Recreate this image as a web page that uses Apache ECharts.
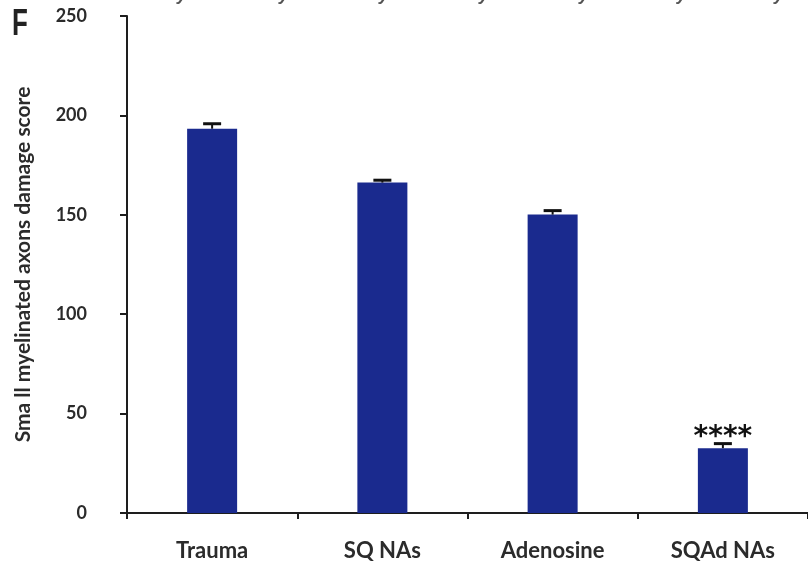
<!DOCTYPE html>
<html>
<head>
<meta charset="utf-8">
<script src="https://cdn.jsdelivr.net/npm/echarts@6/dist/echarts.min.js"></script>
<style>
  html, body { margin: 0; padding: 0; background: #fff; }
  #chart { width: 808px; height: 566px; }
</style>
</head>
<body>
<div id="chart"></div>
<script>
// Treatment groups and their damage scores (mean ± SEM)
const groups = ['Trauma', 'SQ NAs', 'Adenosine', 'SQAd NAs'];
const scores = [193.3, 166.2, 150.1, 32.6];
const sem = [2.5, 1.2, 2.0, 2.3];
const significance = ['', '', '', '****'];
const yTicks = [0, 50, 100, 150, 200, 250];
// Headers of the panel row above, cut off by the top edge
const dayHeaders = ['Day 1', 'Day 3', 'Day 5', 'Day 7', 'Day 9', 'Day 11', 'Day 14'];

const FONT = 'Lato, "Open Sans", sans-serif';
const chart = echarts.init(document.getElementById('chart'), null, { renderer: 'canvas' });

const headerX = [178, 280, 380, 480, 580, 682, 780];

chart.setOption({
  animation: false,
  backgroundColor: '#ffffff',
  grid: { left: 127, width: 694, top: 16, bottom: 53, containLabel: false },
  xAxis: {
    type: 'category',
    data: groups,
    axisLine: { lineStyle: { color: '#1e1e1e', width: 2 } },
    axisTick: { show: true, length: 6, lineStyle: { color: '#1e1e1e', width: 2 } },
    axisLabel: { margin: 27, color: '#2b2b2b', fontSize: 22, fontWeight: 'bold', fontFamily: FONT }
  },
  yAxis: {
    type: 'value',
    min: yTicks[0],
    max: yTicks[yTicks.length - 1],
    interval: 50,
    name: 'Sma ll myelinated axons damage score',
    nameLocation: 'middle',
    nameGap: 93,
    nameTextStyle: { color: '#2b2b2b', fontSize: 21, fontWeight: 'bold', fontFamily: FONT },
    axisLine: { show: true, lineStyle: { color: '#1e1e1e', width: 2 } },
    axisTick: { show: true, length: 7, lineStyle: { color: '#1e1e1e', width: 2 } },
    axisLabel: { margin: 40, color: '#2b2b2b', fontSize: 18, fontWeight: 'bold', fontFamily: FONT },
    splitLine: { show: false }
  },
  series: [
    {
      type: 'bar',
      data: scores,
      barWidth: 50,
      itemStyle: { color: '#1a2a8e' }
    },
    {
      // error bars with caps, plus significance marks above
      type: 'custom',
      data: scores.map((v, i) => [i, v, sem[i], significance[i]]),
      z: 5,
      renderItem: function (params, api) {
        const i = api.value(0);
        const v = api.value(1);
        const e = api.value(2);
        const top = api.coord([i, v + e]);
        const base = api.coord([i, v]);
        const half = 9;
        const children = [
          { type: 'line', shape: { x1: top[0], y1: base[1], x2: top[0], y2: top[1] },
            style: { stroke: '#111', lineWidth: 2 } },
          { type: 'line', shape: { x1: top[0] - half, y1: top[1], x2: top[0] + half, y2: top[1] },
            style: { stroke: '#111', lineWidth: 3 } }
        ];
        const mark = significance[params.dataIndex];
        if (mark) {
          children.push({
            type: 'text',
            style: {
              text: mark, x: top[0], y: top[1] + 8,
              align: 'center', verticalAlign: 'bottom',
              fill: '#111', font: 'bold 28px "DejaVu Sans", sans-serif'
            }
          });
        }
        return { type: 'group', children: children };
      }
    }
  ],
  graphic: [
    { type: 'text', x: 12, y: 7, scaleX: 0.72,
      style: { text: 'F', fill: '#222', font: 'bold 36px "Liberation Sans", Arial, sans-serif' } }
  ].concat(dayHeaders.map((t, k) => ({
    type: 'text', x: headerX[k], y: -14,
    style: { text: t, fill: '#555', align: 'center', font: 'italic bold 18px "Liberation Sans", Arial, sans-serif' }
  })))
});
</script>
</body>
</html>
